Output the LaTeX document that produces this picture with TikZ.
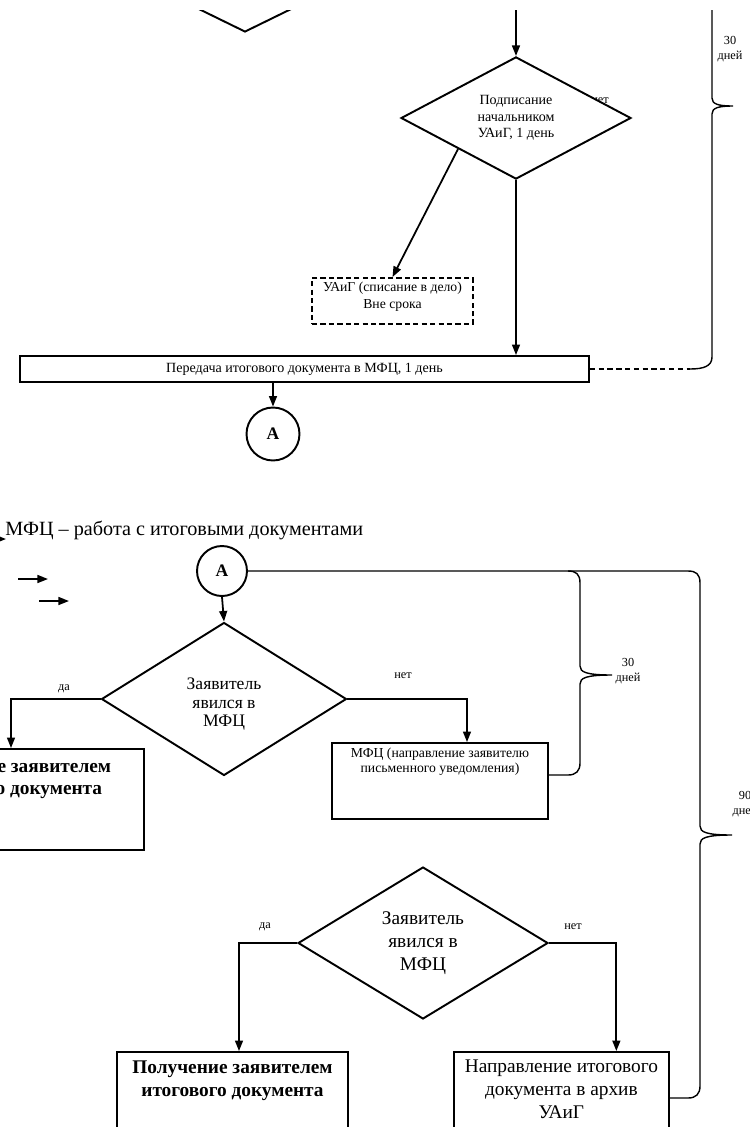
\documentclass[tikz,border=0pt]{standalone}
\usepackage{fontspec}
\setmainfont{Liberation Serif}
\usetikzlibrary{shapes.geometric, arrows.meta, positioning}

\newcommand{\boxtext}[4]{\parbox[t][#2][t]{#1}{\centering\vspace*{#3}#4\par}}

\begin{document}
\begin{tikzpicture}[
  x=0.02cm, y=-0.02cm,
  box/.style={rectangle, draw, line width=1.1pt, inner sep=0pt, fill=white},
  cond/.style={diamond, draw, line width=1.1pt, fill=white, inner sep=0pt,
               align=center},
  mark circ/.style={circle, draw, line width=1.1pt, inner sep=0pt,
                    font=\bfseries\fontsize{10}{11}\selectfont},
  tag/.style={font=\fontsize{7}{8.5}\selectfont, inner sep=0pt, align=center},
  arrow/.style={-{Triangle[length=6pt,width=4.5pt]}, line width=1pt},
  brace/.style={line width=0.8pt},
]
  \useasboundingbox (0,0) rectangle (750,1127);
  \clip (0,10) rectangle (750,1127);

  % Previous step (cut off at the top)
  \node[cond, minimum width=4.6cm, minimum height=2.26cm] (prev) at (245,-24.5) {};
  \coordinate (intop) at (516,0);
  % Signing
  \node[tag] (signno) at (600,101) {нет};
  \node[cond, minimum width=4.6cm, minimum height=2.26cm,
        font=\fontsize{8}{9.5}\selectfont] (sign) at (516,118)
        {Подписание\\начальником\\УАиГ, 1 день};
  % Write-off
  \node[box, dash pattern=on 3pt off 1.8pt, font=\fontsize{7.8}{9.6}\selectfont]
        (late) at (392.5,301)
        {\boxtext{3.22cm}{0.92cm}{2.5pt}{УАиГ (списание в дело)\\Вне срока}};
  % Transfer
  \node[box, minimum width=11.38cm, minimum height=0.52cm,
        font=\fontsize{8}{9.5}\selectfont] (bar) at (304.5,369)
        {Передача итогового документа в МФЦ, 1 день};
  \node[mark circ, minimum size=1.06cm] (A1) at (273,434) {А};

  % Arrows
  \draw[arrow] (intop) -- (sign.north);
  \draw[arrow] (sign.south west) -- (late.north);
  \draw[arrow] (sign.south) -- (sign.south |- bar.north);
  \draw[arrow] (A1 |- bar.south) -- (A1.north);

  % 30 days, upper part
  \coordinate (b1end) at (690,369);
  \draw[brace] (712,0) -- (712,98) .. controls (712,104) and (718,106) .. (733,106)
    .. controls (718,106) and (712,108) .. (712,114) -- (712,357)
    .. controls (712,366) and (704,369) .. (b1end);
  \draw[brace, dash pattern=on 3pt off 2pt] (bar.east) -- (b1end);
  \node[tag] (days1) at (730,49) {30\\дней};

  % MFC part
  \node[anchor=west, inner sep=0pt, font=\fontsize{11.5}{13}\selectfont]
        (head) at (5,530) {МФЦ – работа с итоговыми документами};
  \coordinate (key0-a) at (-30,539); \coordinate (key0-b) at (6,539);
  \coordinate (key1-a) at (18,579);  \coordinate (key1-b) at (48,579);
  \coordinate (key2-a) at (39,601);  \coordinate (key2-b) at (69,601);
  \foreach \k in {0,1,2}
    \draw[arrow] (key\k-a) -- (key\k-b);

  \node[mark circ, minimum size=1.0cm] (A2) at (222,571) {А};
  % First check
  \node[cond, minimum width=4.9cm, minimum height=3.06cm,
        font=\fontsize{10}{10.6}\selectfont] (ask1) at (224,699)
        {\rule{0pt}{12.4pt}Заявитель\\явился в\\МФЦ};
  \node[tag] (yes1) at (64,689) {да};
  \node[tag] (no1) at (403,676) {нет};
  \node[box, font=\bfseries\fontsize{11}{12.6}\selectfont] (get1) at (11,799.5)
        {\boxtext{5.32cm}{2.02cm}{6pt}{Получение заявителем\\итогового документа}};
  \node[box, font=\fontsize{7.8}{8.2}\selectfont] (note) at (440,781)
        {\boxtext{4.32cm}{1.52cm}{3pt}{МФЦ (направление заявителю\\письменного уведомления)}};
  % Second check
  \node[cond, minimum width=5.0cm, minimum height=3.04cm,
        font=\fontsize{11}{13}\selectfont] (ask2) at (423,943)
        {Заявитель\\явился в\\МФЦ};
  \node[tag] (yes2) at (265,927) {да};
  \node[tag] (no2) at (573,927) {нет};
  \node[box, font=\bfseries\fontsize{11}{12.9}\selectfont] (get2) at (232.5,1098)
        {\boxtext{4.62cm}{1.84cm}{5pt}{Получение заявителем\\итогового документа}};
  \node[box, right=2.08cm of get2, font=\fontsize{11}{13}\selectfont] (arch)
        {\boxtext{4.3cm}{1.84cm}{4.5pt}{Направление итогового\\документа в архив\\УАиГ}};

  % Arrows
  \draw[arrow] (A2.south) -- (ask1.north);
  \draw[arrow] (ask1.west) -| (get1.north);
  \draw[arrow] (ask1.east) -| ([xshift=0.54cm]note.north);
  \draw[arrow] (ask2.west) -| ([xshift=0.13cm]get2.north);
  \draw[arrow] (ask2.east) -| ([xshift=1.1cm]arch.north);

  % 90 days
  \draw[brace] (A2.east) -- (688,571) .. controls (696,571) and (700,574) .. (700,583)
    -- (700,826) .. controls (700,832) and (706,835) .. (732,835)
    .. controls (706,835) and (700,838) .. (700,844) -- (700,1086)
    .. controls (700,1094) and (696,1098) .. (688,1098) -- (arch.east);
  \node[tag] (days3) at (745,804) {90\\дней};
  % 30 days
  \draw[brace] (568,571) .. controls (576,571) and (580,574) .. (580,583)
    -- (580,666) .. controls (580,672) and (586,675) .. (612,675)
    .. controls (586,675) and (580,678) .. (580,684) -- (580,763)
    .. controls (580,771) and (576,775) .. (568,775) -- ([yshift=0.12cm]note.east);
  \node[tag] (days2) at (628,671) {30\\дней};
\end{tikzpicture}
\end{document}
